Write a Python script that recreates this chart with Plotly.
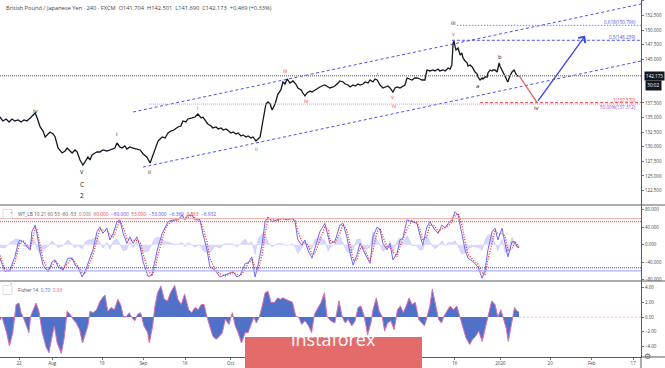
import plotly.graph_objects as go

# ------------------------------------------------------------------
# DATA
# x unit = trading day counted from Mon 22 Jul 2019
# ------------------------------------------------------------------
price_points = [
    (-4.6, 135.10), (-3.9, 134.42), (-3.1, 134.76), (-2.4, 134.25), (-1.7, 134.76), (-1.0, 134.42),
    (-0.2, 134.59), (0.5, 134.25), (1.2, 134.59), (1.9, 134.42), (2.7, 134.93), (3.4, 135.45),
    (3.9, 135.79), (4.3, 135.10), (5.1, 133.39), (5.8, 132.70), (6.3, 131.68), (7.0, 132.19),
    (7.5, 132.53), (8.2, 132.19), (8.7, 131.68), (9.4, 129.79), (10.4, 128.94), (11.1, 129.28),
    (11.6, 129.79), (12.3, 129.28), (12.8, 128.94), (13.5, 129.45), (14.0, 129.11), (14.7, 127.74),
    (15.4, 126.88), (15.9, 127.40), (16.6, 128.25), (17.1, 127.74), (17.6, 128.60), (18.3, 128.94),
    (18.8, 129.11), (19.5, 129.11), (20.2, 129.45), (21.2, 129.28), (21.9, 129.45), (22.7, 129.62),
    (23.1, 129.79), (23.6, 130.65), (24.3, 129.97), (24.8, 129.79), (25.5, 130.14), (26.0, 129.62),
    (26.7, 129.97), (27.5, 129.79), (28.4, 129.62), (29.2, 129.45), (29.9, 128.77), (30.8, 128.25),
    (31.6, 127.23), (32.0, 128.08), (32.8, 129.45), (33.5, 130.99), (34.5, 131.68), (35.2, 131.51),
    (35.9, 132.36), (36.6, 132.70), (37.3, 132.87), (38.3, 133.39), (39.0, 133.56), (39.5, 134.42),
    (40.2, 134.25), (40.7, 134.76), (41.7, 134.93), (42.4, 135.10), (43.1, 135.62), (43.9, 134.93),
    (44.3, 135.10), (45.1, 134.25), (45.5, 133.91), (46.3, 133.56), (46.7, 133.22), (47.5, 133.39),
    (48.0, 133.05), (48.7, 133.22), (49.2, 132.87), (49.9, 133.05), (50.4, 132.70), (51.1, 132.36),
    (51.6, 132.53), (52.3, 132.19), (52.8, 132.36), (53.5, 131.85), (54.0, 132.02), (54.7, 131.68),
    (55.2, 131.85), (55.9, 131.51), (56.4, 131.68), (57.1, 130.99), (57.6, 131.34), (58.1, 131.68),
    (58.6, 133.73), (59.0, 135.45), (59.5, 137.33), (60.0, 137.67), (60.5, 137.33), (61.0, 136.30),
    (61.7, 137.33), (62.4, 139.04), (63.1, 139.73), (63.6, 141.10), (64.1, 140.75), (64.6, 141.61),
    (65.3, 140.92), (66.0, 141.27), (66.7, 140.75), (67.2, 140.07), (68.0, 139.73), (68.4, 139.21),
    (68.9, 138.70), (69.4, 139.21), (70.1, 139.55), (70.6, 139.38), (71.3, 139.73), (71.8, 139.90),
    (72.5, 140.24), (73.0, 140.41), (73.7, 140.58), (74.5, 140.24), (74.9, 140.07), (75.7, 140.24),
    (76.1, 140.41), (76.9, 140.92), (77.3, 141.27), (78.1, 141.10), (78.6, 140.75), (79.3, 140.58),
    (79.8, 140.24), (80.5, 140.58), (81.0, 140.41), (81.7, 140.75), (82.2, 140.58), (82.9, 140.75),
    (83.4, 141.10), (84.1, 140.92), (84.6, 141.44), (85.3, 141.10), (85.8, 141.61), (86.3, 141.44),
    (87.0, 140.58), (87.7, 140.07), (88.2, 140.24), (88.9, 140.41), (89.4, 140.07), (90.1, 139.38),
    (90.6, 140.07), (91.1, 140.24), (91.8, 140.07), (92.5, 140.41), (93.0, 140.58), (93.5, 141.78),
    (94.2, 141.61), (94.7, 141.44), (95.4, 141.78), (95.9, 141.78), (96.6, 141.61), (97.1, 141.44),
    (97.8, 141.44), (98.3, 143.15), (99.0, 142.98), (99.8, 143.15), (100.2, 142.98), (101.0, 143.32),
    (101.4, 142.98), (102.2, 143.15), (102.7, 142.98), (103.4, 143.49), (103.9, 143.32), (104.3, 144.01),
    (104.6, 147.77), (104.8, 148.12), (105.1, 147.09), (105.3, 146.58), (105.8, 146.92), (106.3, 145.72),
    (106.7, 146.06), (107.0, 145.21), (107.5, 144.69), (108.0, 144.35), (108.2, 143.84), (108.7, 144.01),
    (109.2, 143.66), (109.9, 142.81), (110.4, 142.47), (110.6, 141.95), (111.1, 141.44), (111.6, 141.78),
    (111.8, 141.61), (112.3, 141.95), (112.8, 141.95), (113.0, 142.64), (113.5, 143.15), (114.0, 142.98),
    (114.2, 143.15), (114.7, 143.15), (115.2, 142.81), (115.4, 143.49), (115.7, 144.35), (115.9, 143.84),
    (116.4, 143.15), (117.1, 141.95), (117.6, 141.44), (117.8, 141.10), (118.3, 142.12), (118.8, 142.81),
    (119.3, 143.15), (119.5, 142.81), (120.0, 142.12), (120.5, 142.173),
]
price_day = [p[0] for p in price_points]
price_close = [p[1] for p in price_points]
last_close = 142.173

# WT_LB oscillator: (day, wt1, wt2, wt1-wt2 histogram)
wt_points = [
    (-4.6, -31, -25, -6), (-3.4, -62, -55, -7), (-2.2, -58, -62, 4), (-1.0, -28, -40, 12),
    (-0.2, 4, -10, 14), (0.2, 11, 5, 6), (1.0, 7, 9, -2), (1.9, -5, 0, -5), (2.7, -12, -9, -3),
    (3.1, 30, 10, 20), (3.9, 45, 38, 7), (4.3, 27, 36, -9), (5.1, -19, 2, -21), (5.8, -47, -34, -13),
    (7.0, -62, -58, -4), (8.0, -39, -48, 9), (8.7, -35, -37, 2), (9.4, -51, -44, -7),
    (10.6, -58, -56, -2), (11.8, -31, -42, 11), (12.8, -31, -31, 0), (13.5, -47, -40, -7),
    (14.2, -51, -49, -2), (15.2, -74, -64, -10), (15.9, -62, -68, 6), (16.6, -42, -52, 10),
    (17.8, -12, -25, 13), (18.8, 30, 12, 18), (19.5, 41, 36, 5), (20.2, 26, 34, -8),
    (21.2, 38, 32, 6), (21.9, 11, 22, -11), (22.7, 26, 18, 8), (23.6, 53, 40, 13), (24.3, 57, 55, 2),
    (25.1, 26, 40, -14), (26.0, 3, 14, -11), (26.7, 18, 10, 8), (27.5, 3, 10, -7), (28.4, 18, 10, 8),
    (29.2, -5, 6, -11), (29.9, -39, -22, -17), (31.1, -73, -58, -15), (32.0, -70, -72, 2),
    (32.8, -39, -54, 15), (33.5, -5, -22, 17), (34.5, 26, 12, 14), (35.2, 41, 34, 7), (35.9, 53, 47, 6),
    (37.1, 57, 55, 2), (38.3, 57, 57, 0), (39.3, 68, 63, 5), (40.0, 57, 62, -5), (40.7, 68, 63, 5),
    (41.7, 68, 68, 0), (42.4, 57, 62, -5), (43.6, 57, 57, 0), (44.3, 26, 40, -14), (45.3, -12, 6, -18),
    (46.0, -51, -32, -19), (47.2, -58, -55, -3), (48.4, -74, -66, -8), (49.6, -70, -72, 2),
    (50.8, -66, -68, 2), (51.6, -62, -64, 2), (52.5, -74, -68, -6), (53.3, -70, -72, 2),
    (54.5, -43, -56, 13), (55.2, -42, -43, 1), (56.1, -28, -35, 7), (56.9, -74, -52, -22),
    (57.6, -47, -60, 13), (58.6, 3, -22, 25), (59.3, 53, 28, 25), (60.0, 64, 58, 6), (61.0, 53, 58, -5),
    (62.2, 57, 55, 2), (63.4, 61, 59, 2), (64.6, 57, 59, -2), (65.8, 61, 59, 2), (66.5, 53, 57, -4),
    (67.2, 11, 32, -21), (68.2, -1, 5, -6), (68.9, 11, 5, 6), (69.6, -12, 0, -12), (70.6, -31, -22, -9),
    (71.3, -8, -20, 12), (72.5, 30, 12, 18), (73.7, 49, 40, 9), (74.5, 18, 33, -15), (74.9, 3, 10, -7),
    (76.1, 7, 5, 2), (77.3, 45, 26, 19), (78.1, 49, 47, 2), (79.0, 18, 33, -15), (79.8, -20, 0, -20),
    (80.5, -47, -34, -13), (81.4, -24, -36, 12), (82.2, 3, -10, 13), (82.9, -12, -5, -7),
    (83.9, -31, -22, -9), (84.6, -43, -37, -6), (85.3, 18, -12, 30), (86.3, 41, 30, 11),
    (87.0, 34, 38, -4), (87.7, 3, 18, -15), (88.7, -12, -5, -7), (89.4, 3, -5, 8), (90.1, -35, -16, -19),
    (91.1, -20, -28, 8), (91.8, 11, -5, 16), (92.5, 15, 13, 2), (93.5, 57, 36, 21), (94.7, 53, 55, -2),
    (95.9, 49, 51, -2), (96.6, 22, 35, -13), (97.3, -1, 10, -11), (98.3, 41, 20, 21), (99.0, 53, 47, 6),
    (100.2, 34, 43, -9), (101.0, 26, 30, -4), (101.9, 45, 36, 9), (102.7, 38, 41, -3), (103.4, 49, 44, 5),
    (104.3, 57, 53, 4), (105.1, 76, 67, 9), (105.8, 68, 72, -4), (106.7, 26, 47, -21), (107.5, -12, 7, -19),
    (108.2, -31, -22, -9), (109.4, -39, -35, -4), (110.6, -51, -45, -6), (111.6, -77, -64, -13),
    (112.3, -58, -68, 10), (113.0, -12, -35, 23), (114.0, 30, 9, 21), (114.7, 38, 34, 4),
    (115.4, 11, 25, -14), (116.4, 38, 25, 13), (117.1, 3, 20, -17), (117.8, -28, -12, -16),
    (118.8, 7, -10, 17), (119.5, 7, 7, 0), (120.0, -5, 1, -6), (120.5, -6.369, -6.932, 0.563),
]
wt_day = [p[0] for p in wt_points]
wt1 = [p[1] for p in wt_points]
wt2 = [p[2] for p in wt_points]
wt_hist = [p[3] for p in wt_points]
wt_levels = [60, 53, -60, -53]

# Fisher 14: (day, value)
fisher_points = [
    (-4.6, -0.4), (-4.1, 0.0), (-3.0, -2.1), (-2.3, -3.9), (-1.5, -2.1), (-0.7, 1.7), (0.0, 1.9),
    (0.5, 0.6), (1.0, 0.0), (1.7, -1.2), (2.4, -2.1), (2.8, 0.1), (3.4, 1.0), (4.1, 1.9), (4.8, 0.8),
    (5.6, -2.1), (6.5, -4.0), (7.2, -4.8), (7.9, -2.8), (8.5, -1.2), (9.2, -3.5), (10.2, -4.9),
    (10.9, -2.8), (11.6, 0.8), (12.3, 0.4), (13.0, -0.3), (13.8, -0.8), (14.6, -1.7), (15.3, -3.5),
    (16.0, -2.1), (16.6, -1.2), (17.1, 0.8), (17.9, 0.6), (18.7, 1.0), (19.4, 2.0), (20.1, 2.6),
    (20.7, 3.0), (21.4, 0.8), (22.2, 1.3), (23.0, 1.0), (23.8, 2.4), (24.5, 1.7), (25.2, 0.0),
    (25.9, 0.1), (26.6, 0.6), (27.1, 0.0), (27.9, -0.5), (28.6, 0.4), (29.3, 0.6), (30.1, -1.2),
    (31.0, -2.1), (31.4, -3.5), (32.2, -1.2), (32.7, 1.3), (33.4, 3.3), (34.2, 4.2), (35.0, 2.4),
    (35.8, 2.2), (36.5, 3.3), (37.5, 4.3), (38.3, 2.4), (39.1, 1.7), (39.9, 3.1), (40.9, 1.0),
    (41.6, 0.6), (42.4, 1.3), (43.2, 1.0), (43.9, 1.7), (44.6, 1.7), (45.3, 0.0), (46.0, -1.2),
    (46.7, -2.6), (47.5, -3.0), (48.3, -2.6), (49.0, -2.1), (49.7, -0.3), (50.6, -1.0), (51.4, 0.6),
    (52.1, -1.2), (52.8, -2.1), (53.6, -3.5), (54.5, -2.1), (55.2, -2.1), (55.9, -1.0), (56.6, 0.0),
    (57.2, -0.8), (57.9, 0.0), (58.6, 1.5), (59.3, 3.3), (60.0, 3.5), (60.7, 2.0), (61.6, 2.0),
    (62.3, 2.6), (63.0, 2.4), (63.6, 2.6), (64.3, 2.4), (65.1, 2.2), (65.9, 2.0), (66.7, 0.1),
    (67.4, 0.0), (68.1, -1.0), (68.9, -0.5), (69.8, -1.2), (70.5, -2.1), (71.2, 0.4), (72.0, 1.3),
    (72.8, 2.0), (73.6, 3.3), (74.2, 0.1), (75.1, -0.5), (76.1, -0.8), (77.1, 2.2), (77.9, 0.0),
    (78.6, -0.8), (79.3, -0.3), (80.2, -1.2), (81.0, -0.5), (81.7, 1.3), (82.4, 1.5), (83.2, 0.1),
    (84.0, -2.4), (84.8, -0.8), (85.3, 1.0), (86.1, 2.6), (86.8, 0.8), (87.5, 0.1), (88.1, -1.9),
    (88.8, -0.8), (89.6, -0.5), (90.4, -1.7), (91.2, 1.0), (91.9, 1.5), (92.6, 0.6), (93.3, 1.5),
    (94.0, 2.6), (94.7, 1.7), (95.5, 2.0), (96.3, -0.3), (97.0, -0.8), (97.7, -1.2), (98.3, 0.0),
    (99.0, 1.5), (99.6, 3.8), (100.4, 1.7), (101.1, -0.3), (101.8, -0.8), (102.4, 0.1), (103.1, 0.8),
    (103.9, 1.5), (104.7, 1.0), (105.5, 1.5), (106.2, 0.1), (106.9, -1.2), (107.7, -2.8), (108.6, -3.7),
    (109.3, -3.0), (110.0, -2.6), (110.8, -1.9), (111.6, -3.3), (112.3, -1.7), (113.0, 0.0),
    (113.9, 2.2), (114.7, 1.7), (115.4, 0.0), (116.1, 1.0), (116.7, -0.3), (117.4, -1.5),
    (117.9, -3.3), (118.7, -0.8), (119.4, 1.3), (120.0, 0.8), (120.5, 0.70),
]
fisher_day = [p[0] for p in fisher_points]
fisher_val = [p[1] for p in fisher_points]

# time-axis ticks
tick_days = [0, 8, 20, 30, 40, 51, 62, 74, 85, 95, 105, 116, 128, 138, 148]
tick_text = ["22", "Aug", "19", "Sep", "16", "Oct", "16", "Nov", "18", "Dec", "16", "2020", "20", "Feb", "17"]

# 140.000 and 142.500 sit behind the last-price / countdown boxes, so they are not shown
price_ticks = [122.5, 125.0, 127.5, 130.0, 132.5, 135.0, 137.5, 145.0, 147.5, 150.0, 152.5, 155.0]
wt_ticks = [-80, -40, 0, 40, 80]
wt_tick_text = ["\u221280.000", "\u221240.000", "0.000", "40.000", "80.000"]
fisher_ticks = [-4, -2, 0, 2, 4]
fisher_tick_text = ["\u22124.00", "\u22122.00", "0.00", "2.00", "4.00"]

# drawing tools (in chart units)
channel_upper = ([27.5, 149.9], [135.96, 154.45])
channel_lower = ([29.9, 149.9], [126.54, 144.69])
fib_levels = [  # label, price, start day
    ("0.618(150.796)", 150.796, 105.5),
    ("0.5(148.239)", 148.239, 104.3),
    ("1(137.570)", 137.570, 111.1),
    ("50.00%(137.312)", 137.312, 31.3),
]
proj_day = [120.5, 124.8, 136.4]
proj_price = [142.173, 137.6, 149.0]

wave_labels = [  # text, day, price, colour-key, size
    ("iv", 3.9, 136.2, "k", 6), ("v", 15.2, 125.7, "k", 6.5), ("C", 15.2, 123.6, "k", 6.5),
    ("2", 15.2, 121.6, "k", 6.5), ("i", 23.6, 132.2, "k", 6), ("ii", 31.6, 125.7, "k", 6),
    ("i", 43.1, 136.6, "r", 5.5), ("ii", 57.3, 129.7, "r", 5.5), ("iii", 64.1, 142.9, "r", 5.5),
    ("iv", 69.2, 137.8, "r", 5.5), ("i", 86.3, 142.5, "r", 5.5), ("v", 90.1, 138.5, "r", 5.5),
    ("iv", 90.4, 136.9, "r", 5.5), ("iii", 104.6, 151.15, "k", 6), ("v", 104.6, 149.4, "r", 5.5),
    ("a", 110.6, 140.4, "k", 6), ("b", 115.9, 145.4, "k", 6), ("iv", 124.8, 136.6, "k", 6),
]

# ------------------------------------------------------------------
# STYLE / LAYOUT
# ------------------------------------------------------------------
FONT = "Open Sans"
X_MIN, X_MAX = -4.58, 149.88
PW, PH = 641.0, 357.0
MAIN_BOTTOM, WT_BOTTOM = 205.0, 281.0
BLUE = "#4b52ee"
RED = "#f04848"
COL = {"k": "#131722", "r": "#e8403a"}


def PX(x):
    return x / PW


def PY(y):
    return 1 - y / PH


fig = go.Figure()

# WT histogram
fig.add_trace(go.Scatter(x=wt_day, y=wt_hist, mode="lines", line=dict(width=0.5, color="rgba(130,130,250,0.45)"),
                         fill="tozeroy", fillcolor="rgba(130,130,250,0.3)", yaxis="y2", hoverinfo="skip"))
fig.add_trace(go.Scatter(x=wt_day, y=wt1, mode="lines", line=dict(width=1, color="#6a6af4"),
                         yaxis="y2", hoverinfo="skip"))
fig.add_trace(go.Scatter(x=wt_day, y=wt2, mode="lines", line=dict(width=1.4, color="#f03434", dash="1px,1.6px"),
                         yaxis="y2", hoverinfo="skip"))

# Fisher
fig.add_trace(go.Scatter(x=fisher_day, y=fisher_val, mode="lines", line=dict(width=1, color="#e070b0"),
                         fill="tozeroy", fillcolor="rgba(48,88,190,0.85)", yaxis="y3", hoverinfo="skip"))

# channel lines
for cx, cy in (channel_upper, channel_lower):
    fig.add_trace(go.Scatter(x=cx, y=cy, mode="lines", line=dict(width=1, color=BLUE, dash="3px,2.5px"),
                             yaxis="y", hoverinfo="skip"))

# price
fig.add_trace(go.Scatter(x=price_day, y=price_close, mode="lines", line=dict(width=1.3, color="#131722"),
                         yaxis="y", hoverinfo="skip"))

# projection (red leg)
fig.add_trace(go.Scatter(x=proj_day[:2], y=proj_price[:2], mode="lines", line=dict(width=1.3, color="#f06060"),
                         yaxis="y", hoverinfo="skip"))

shapes = []
annotations = []

# current price dotted line
shapes.append(dict(type="line", xref="x domain", yref="y", x0=0, x1=1, y0=last_close, y1=last_close,
                   line=dict(color="#8a8a8a", width=1.4, dash="1px,1px")))

fib_style = {
    "0.618(150.796)": ("#7f86f4", "1.5px,1.5px", "#4b52ee", 3),
    "0.5(148.239)": (BLUE, "3px,2px", "#4b52ee", 3),
    "1(137.570)": (RED, "3px,2px", "#f04848", 3),
    "50.00%(137.312)": ("#d58cf0", "1px,1px", "#a048d0", -3),
}
for label, lvl, start in fib_levels:
    lc, dsh, tc, shift = fib_style[label]
    shapes.append(dict(type="line", xref="x", yref="y", x0=start, x1=X_MAX, y0=lvl, y1=lvl,
                       line=dict(color=lc, width=1, dash=dsh)))
    annotations.append(dict(xref="x domain", yref="y", x=0.995, y=lvl, text=label, showarrow=False,
                            xanchor="right", yanchor="middle", yshift=shift,
                            font=dict(size=4.6, color=tc, family=FONT)))

# arrow (blue leg)
annotations.append(dict(xref="x", yref="y", axref="x", ayref="y", x=proj_day[2], y=proj_price[2],
                        ax=proj_day[1], ay=proj_price[1], showarrow=True, arrowhead=4, arrowsize=1.3,
                        arrowwidth=1.3, arrowcolor="#3b40f0", text=""))

for txt, d, p, ck, sz in wave_labels:
    annotations.append(dict(xref="x", yref="y", x=d, y=p, text=txt, showarrow=False,
                            font=dict(size=sz, color=COL[ck], family=FONT)))

# WT levels
wt_level_style = {60: ("#f6a8a8", "solid", 1), 53: ("#ee4040", "1px,1px", 1),
                  -60: ("#b0b0f8", "solid", 1.2), -53: ("#3f3fe8", "1px,1px", 1)}
for lv in wt_levels:
    c, dsh, w = wt_level_style[lv]
    shapes.append(dict(type="line", xref="x domain", yref="y2", x0=0, x1=1, y0=lv, y1=lv,
                       line=dict(color=c, width=w, dash=dsh)))

# Fisher zero (future) dashed
shapes.append(dict(type="line", xref="x", yref="y3", x0=fisher_day[-1], x1=X_MAX, y0=0, y1=0,
                   line=dict(color="#f4a0a0", width=0.8, dash="2px,2px")))

# panel separators and frame bits
for yy in (MAIN_BOTTOM, WT_BOTTOM):
    shapes.append(dict(type="line", xref="paper", yref="paper", x0=0, x1=PX(665), y0=PY(yy), y1=PY(yy),
                       line=dict(color="#5a5a5a", width=1)))
shapes.append(dict(type="line", xref="paper", yref="paper", x0=1, x1=PX(665), y0=0, y1=0,
                   line=dict(color="#5a5a5a", width=1)))
shapes.append(dict(type="line", xref="paper", yref="paper", x0=1, x1=1, y0=0, y1=PY(368),
                   line=dict(color="#5a5a5a", width=1)))

# collapse boxes of the indicator legends
for yy in (209.5, 285.5):
    shapes.append(dict(type="rect", xref="paper", yref="paper", x0=PX(3), x1=PX(12), y0=PY(yy), y1=PY(yy + 9),
                       line=dict(color="#c8c8c8", width=0.6), fillcolor="white"))
    annotations.append(dict(xref="paper", yref="paper", x=PX(7.5), y=PY(yy + 4.5), text="\u02c5",
                            showarrow=False, font=dict(size=5, color="#555", family="DejaVu Sans")))

# banner
shapes.append(dict(type="rect", xref="paper", yref="paper", x0=PX(245), x1=PX(422), y0=PY(368), y1=PY(337),
                   line=dict(width=0), fillcolor="#e36b6b", layer="above"))
annotations.append(dict(xref="paper", yref="paper", x=PX(333.5), y=PY(352.5), text="instaforex",
                        showarrow=False, font=dict(size=18, color="white", family=FONT)))

# title / legends
annotations.append(dict(xref="paper", yref="paper", x=PX(4), y=PY(7.5), xanchor="left", yanchor="middle",
                        showarrow=False, align="left",
                        text="British Pound / Japanese Yen \u00b7 240 \u00b7 FXCM&nbsp;&nbsp;O141.704&nbsp;&nbsp;H142.501&nbsp;&nbsp;L141.690&nbsp;&nbsp;C142.173&nbsp;&nbsp;+0.469 (+0.33%)",
                        font=dict(size=5.7, color="#444", family=FONT)))


def span(t, c):
    return '<span style="color:%s">%s</span>' % (c, t)


wt_legend = ("WT_LB 10 21 60 53 -60 -53&nbsp;&nbsp;" + span("0.000", "#777") + "&nbsp;&nbsp;" +
             span("60.000", "#f03c3c") + "&nbsp;&nbsp;" + span("\u221260.000", "#4b4bf0") + "&nbsp;&nbsp;" +
             span("53.000", "#f03c3c") + "&nbsp;&nbsp;" + span("\u221253.000", "#4b4bf0") + "&nbsp;&nbsp;" +
             span("\u22126.369", "#4b4bf0") + "&nbsp;&nbsp;" + span("0.563", "#f03c3c") + "&nbsp;&nbsp;" +
             span("\u22126.932", "#4b4bf0"))
annotations.append(dict(xref="paper", yref="paper", x=PX(16), y=PY(214), xanchor="left", yanchor="middle",
                        showarrow=False, text=wt_legend, font=dict(size=4.8, color="#555", family=FONT)))
fisher_legend = "Fisher 14&nbsp;&nbsp;" + span("0.70", "#3a6fd8") + "&nbsp;&nbsp;" + span("0.93", "#e0508a")
annotations.append(dict(xref="paper", yref="paper", x=PX(16), y=PY(290), xanchor="left", yanchor="middle",
                        showarrow=False, text=fisher_legend, font=dict(size=4.8, color="#555", family=FONT)))

# price scale boxes
annotations.append(dict(xref="paper", yref="y", x=PX(643.5), y=last_close, xanchor="left", yanchor="middle",
                        showarrow=False, text="142.173", bgcolor="#131722", borderpad=1,
                        font=dict(size=4.6, color="white", family=FONT)))
annotations.append(dict(xref="paper", yref="y", x=PX(645), y=last_close, xanchor="left", yanchor="middle",
                        yshift=-10, showarrow=False, text="30:02", bgcolor="#131722", borderpad=1.3,
                        font=dict(size=4.6, color="white", family=FONT)))
# settings gear
annotations.append(dict(xref="paper", yref="paper", x=PX(652.5), y=PY(362.5), showarrow=False, text="\u2699",
                        font=dict(size=8, color="#666", family="DejaVu Sans")))

axis_font = dict(size=4.5, color="#444", family=FONT)
common_y = dict(side="right", anchor="x", showgrid=False, zeroline=False, showline=True, linecolor="#5a5a5a",
                linewidth=1, ticks="outside", ticklen=2, tickcolor="#777", tickfont=axis_font, fixedrange=True)

fig.update_layout(
    width=665, height=368,
    margin=dict(l=0, r=24, t=0, b=11),
    paper_bgcolor="white", plot_bgcolor="white", showlegend=False,
    shapes=shapes, annotations=annotations,
    xaxis=dict(domain=[0, 1], range=[X_MIN, X_MAX], anchor="y3", tickvals=tick_days, ticktext=tick_text,
               showgrid=False, zeroline=False, showline=True, linecolor="#5a5a5a", linewidth=1,
               ticks="outside", ticklen=2, tickcolor="#777", tickfont=axis_font, tickangle=0, fixedrange=True),
    yaxis=dict(domain=[PY(MAIN_BOTTOM), 1], range=[120.03, 155.137], tickvals=price_ticks, tickformat=".3f",
               **common_y),
    yaxis2=dict(domain=[PY(WT_BOTTOM), PY(MAIN_BOTTOM)], range=[-83.4, 91.3], tickvals=wt_ticks,
                ticktext=wt_tick_text, **common_y),
    yaxis3=dict(domain=[0, PY(WT_BOTTOM)], range=[-5.39, 4.88], tickvals=fisher_ticks,
                ticktext=fisher_tick_text, **common_y),
)

fig.write_html("out.html", config={"displayModeBar": False},
               post_script="document.body.style.margin='0';document.body.style.overflow='hidden';")
